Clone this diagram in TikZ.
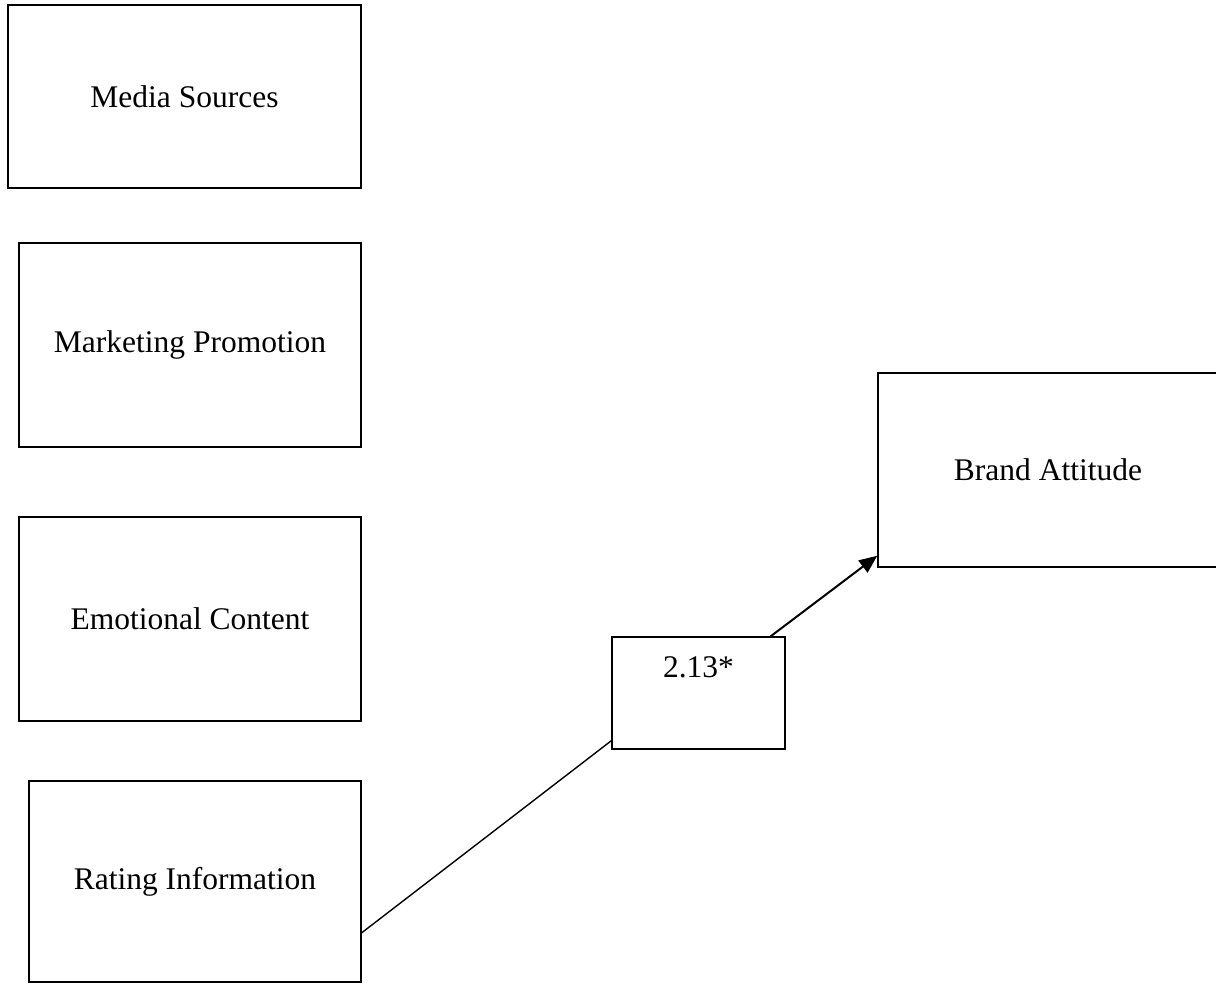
\documentclass[tikz,border=0pt]{standalone}
\usepackage{fontspec}
\setmainfont{Liberation Serif}
\usetikzlibrary{arrows.meta}

\tikzset{
  varbox/.style={draw, line width=1.5pt, rectangle, inner sep=0pt,
    font=\fontsize{31.5}{38}\selectfont},
  path/.style={line width=1.4pt},
}

\begin{document}
\begin{tikzpicture}[x=1pt, y=-1pt]
    \useasboundingbox (0,0) rectangle (1216,983);
    % predictors
    \node[varbox, minimum width=353pt, minimum height=183pt] (media) at (184.5,96.5) {Media Sources};
    \node[varbox, minimum width=342pt, minimum height=204pt] (promo) at (190,345) {Marketing Promotion};
    \node[varbox, minimum width=342pt, minimum height=204pt] (emotion) at (190,619) {Emotional Content};
    \node[varbox, minimum width=332pt, minimum height=201pt] (rating) at (195,881.5) {Rating Information};
    % outcome
    \node[varbox, minimum width=340pt, minimum height=194pt] (brand) at (1048,470) {Brand Attitude};
    % path coefficient
    \node[varbox, minimum width=173pt, text height=40pt, text depth=72pt] (coef) at (698.5,693) {2.13*};
    \draw[path] ([yshift=50pt]rating.south east) -- ([yshift=9pt]coef.south west);
    \draw[path, line width=2pt, -{Triangle[length=18pt,width=15pt]}]
      ([xshift=-15pt]coef.north east) -- ([yshift=12pt]brand.south west);
  \end{tikzpicture}
\end{document}
